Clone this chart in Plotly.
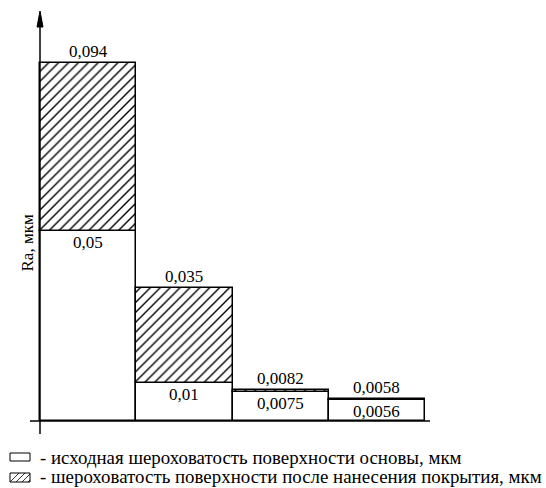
import plotly.graph_objects as go

# ---- data ----
categories = ["1", "2", "3", "4"]
base_values = [0.05, 0.01, 0.0075, 0.0056]      # исходная шероховатость
coated_values = [0.094, 0.035, 0.0082, 0.0058]  # после нанесения покрытия
base_labels = ["0,05", "0,01", "0,0075", "0,0056"]
coated_labels = ["0,094", "0,035", "0,0082", "0,0058"]
y_title = "Ra, мкм"
legend_texts = [
    "- исходная шероховатость поверхности основы, мкм",
    "- шероховатость поверхности после нанесения покрытия, мкм",
]

W, H = 546, 488
L, R, T, B = 30, 430, 12, 434
X0PX, XUNIT = 40, 96.25
Y0PX, YUNIT = 421, 3809.0

xr = [(L - X0PX) / XUNIT, (R - X0PX) / XUNIT]
yr = [(Y0PX - B) / YUNIT, (Y0PX - T) / YUNIT]

xpos = [i + 0.5 for i in range(len(categories))]
diffs = [c - b for c, b in zip(coated_values, base_values)]

FONT = "Liberation Serif"

fig = go.Figure()
fig.add_trace(go.Bar(
    x=xpos, y=base_values, width=1, base=0,
    marker=dict(color="white", line=dict(color="black", width=1.5)),
    showlegend=False, hoverinfo="skip",
))
fig.add_trace(go.Bar(
    x=xpos, y=diffs, width=1, base=base_values,
    marker=dict(color="white", line=dict(color="black", width=1.5),
                pattern=dict(shape="/", fgcolor="black", bgcolor="white",
                             fgopacity=1, size=7, solidity=0.2)),
    showlegend=False, hoverinfo="skip",
))

annotations = []
for x, b, c, bl, cl in zip(xpos, base_values, coated_values, base_labels, coated_labels):
    annotations.append(dict(x=x, y=c, text=cl, showarrow=False, xref="x", yref="y",
                            yanchor="bottom", font=dict(size=17)))
    annotations.append(dict(x=x, y=b, text=bl, showarrow=False, xref="x", yref="y",
                            yanchor="top", font=dict(size=17)))

def px(xp):
    return (xp - L) / (R - L)

def py(yp):
    return (B - yp) / (B - T)

annotations.append(dict(x=px(15), y=py(243), xref="paper", yref="paper", text=y_title,
                        textangle=-90, showarrow=False, font=dict(size=17)))
for txt, yc in zip(legend_texts, [457, 477]):
    annotations.append(dict(x=px(38), y=py(yc), xref="paper", yref="paper", text=txt,
                            xanchor="left", yanchor="middle", showarrow=False,
                            font=dict(size=18.9)))

shapes = []
shapes.append(dict(type="line", xref="paper", yref="y", x0=0, x1=1, y0=0, y1=0,
                   line=dict(color="black", width=1.5)))
shapes.append(dict(type="line", xref="x", yref="paper", x0=0, x1=0, y0=0, y1=py(20),
                   line=dict(color="black", width=1.5)))
shapes.append(dict(type="path", xref="paper", yref="paper",
                   path=f"M {px(37)} {py(27)} L {px(40)} {py(11)} L {px(43)} {py(27)} Z",
                   fillcolor="black", line=dict(color="black", width=1)))
# legend symbols
shapes.append(dict(type="rect", xref="paper", yref="paper",
                   x0=px(10), x1=px(30), y0=py(461), y1=py(453),
                   line=dict(color="black", width=1), fillcolor="white"))
shapes.append(dict(type="rect", xref="paper", yref="paper",
                   x0=px(10), x1=px(30), y0=py(482), y1=py(473),
                   line=dict(color="black", width=1), fillcolor="white"))
for k in range(4):
    xa = 10 + k * 6
    x_start, y_start = xa, 482
    x_end, y_end = xa + 9, 473
    if x_end > 30:
        d = x_end - 30
        x_end, y_end = 30, 473 + d
    shapes.append(dict(type="line", xref="paper", yref="paper",
                       x0=px(x_start), y0=py(y_start), x1=px(x_end), y1=py(y_end),
                       line=dict(color="black", width=0.8)))

fig.update_layout(
    width=W, height=H, autosize=False,
    font=dict(family=FONT, color="black"),
    margin=dict(l=L, r=W - R, t=T, b=H - B, pad=0),
    paper_bgcolor="white", plot_bgcolor="white",
    barmode="overlay", bargap=0,
    xaxis=dict(range=xr, visible=False, fixedrange=True),
    yaxis=dict(range=yr, visible=False, fixedrange=True),
    shapes=shapes, annotations=annotations,
    showlegend=False,
)

fig.write_html("out.html", config={"displayModeBar": False},
               post_script="document.body.style.margin='0px';document.body.style.overflow='hidden';")
